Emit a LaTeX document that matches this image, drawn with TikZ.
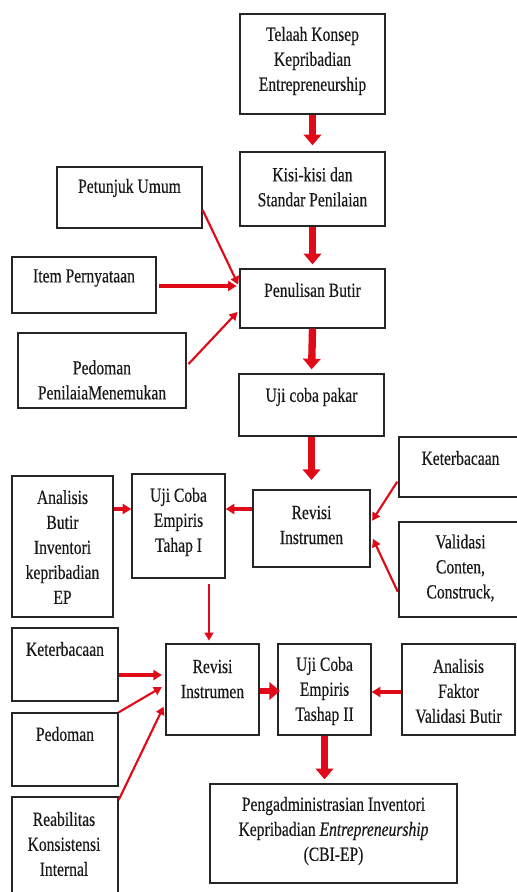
\documentclass[tikz,border=0pt]{standalone}
\usepackage{fontspec}
\setmainfont[FakeStretch=0.78,FakeBold=0.35]{Liberation Serif}
\usetikzlibrary{arrows.meta,fit,calc}
\definecolor{arr}{RGB}{225,10,25}
\begin{document}
\begin{tikzpicture}[x=0.75pt,y=-0.75pt,
  box/.style={draw=black!85,line width=1pt,inner sep=0pt},
  txt/.style={align=center,inner sep=0pt,text=black!90,font=\fontsize{15}{18.75}\selectfont},
  big/.style={draw=arr,line width=5.5pt,-{Triangle[width=13pt,length=8pt]}},
  thin/.style={draw=arr,line width=1.6pt,-{Triangle[width=6.5pt,length=6pt]}},
  mid/.style={draw=arr,line width=2.3pt,-{Triangle[width=7.5pt,length=6.5pt]}}]
\useasboundingbox (0,0) rectangle (517,892);
% boxes
\node[box,fit={(240,14) (385,114)}] (tel) {};
\node[box,fit={(240,152) (385,226)}] (kisi) {};
\node[box,fit={(240,269) (385,328)}] (pen) {};
\node[box,fit={(57,167) (202,228)}] (pet) {};
\node[box,fit={(12,257) (156,313)}] (item) {};
\node[box,fit={(18,333) (186,408)}] (pedo) {};
\node[box,fit={(239,374) (384,436)}] (uji) {};
\node[box,fit={(253,490) (370,567)}] (rev1) {};
\node[box,fit={(399,437) (522,497)}] (ket1) {};
\node[box,fit={(399,522) (522,617)}] (val) {};
\node[box,fit={(132,474) (225,578)}] (uj1) {};
\node[box,fit={(12,476) (113,617)}] (ana) {};
\node[box,fit={(12,628) (118,701)}] (ket2) {};
\node[box,fit={(12,713) (118,786)}] (pedo2) {};
\node[box,fit={(12,797) (118,900)}] (reab) {};
\node[box,fit={(166,644) (259,735)}] (rev2) {};
\node[box,fit={(278,644) (371,735)}] (uj2) {};
\node[box,fit={(402,644) (515,735)}] (anf) {};
\node[box,fit={(210,784) (457,883)}] (adm) {};
% texts
\node[txt] (tel-t) at (312.5,61) {Telaah Konsep\\Kepribadian\\Entrepreneurship};
\node[txt] (kisi-t) at (312.5,187) {Kisi-kisi dan\\Standar Penilaian};
\node[txt] (pen-t) at (312.5,290) {Penulisan Butir};
\node[txt] (pet-t) at (129.5,188) {Petunjuk Umum};
\node[txt] (item-t) at (84,278) {Item Pernyataan};
\node[txt] (pedo-t) at (102,380) {Pedoman\\PenilaiaMenemukan};
\node[txt] (uji-t) at (311.5,397) {Uji coba pakar};
\node[txt] (rev1-t) at (311.5,525) {Revisi\\Instrumen};
\node[txt] (ket1-t) at (460.5,458) {Keterbacaan};
\node[txt] (val-t) at (460.5,568) {Validasi\\Conten,\\Construck,};
\node[txt] (uj1-t) at (178.5,522) {Uji Coba\\Empiris\\Tahap I};
\node[txt] (ana-t) at (62.5,547) {Analisis\\Butir\\Inventori\\kepribadian\\EP};
\node[txt] (ket2-t) at (65,649) {Keterbacaan};
\node[txt] (pedo2-t) at (65,734) {Pedoman};
\node[txt] (reab-t) at (64,844) {Reabilitas\\Konsistensi\\Internal};
\node[txt] (rev2-t) at (212.5,679) {Revisi\\Instrumen};
\node[txt] (uj2-t) at (324.5,691) {Uji Coba\\Empiris\\Tashap II};
\node[txt] (anf-t) at (458.5,691) {Analisis\\Faktor\\Validasi Butir};
\node[txt] (adm-t) at (333.5,831) {Pengadministrasian Inventori\\Kepribadian \textit{Entrepreneurship}\\(CBI-EP)};
% block arrows
\draw[big,shorten >=4.5pt] (tel.south) -- (kisi.north);
\draw[big,shorten >=3pt] (kisi.south) -- (pen.north);
\draw[big,shorten >=3pt] (pen.south) -- (uji.north);
\draw[big,shorten >=7pt] (uji.south) -- (uji.south |- rev1.north);
\draw[big,shorten >=3pt] (uj2.south) -- (uj2.south |- adm.north);
\draw[big,line width=4.5pt,shorten >=-2pt] (rev2.east |- 0,691) -- (uj2.west |- 0,691);
% thin arrows
\draw[thin,shorten >=2pt] (pet.east |- 0,210) -- (pen.west |- 0,287);
\draw[mid,shorten <=2pt,shorten >=2pt] (item.east |- 0,286) -- (pen.west |- 0,286);
\draw[thin,shorten <=2pt,shorten >=2pt] (pedo.east |- 0,366) -- (pen.west |- 0,310);
\draw[thin,shorten <=1.5pt,shorten >=2pt] (ket1.west |- 0,480) -- (rev1.east |- 0,523);
\draw[thin,shorten <=1pt,shorten >=4pt] (val.west |- 0,593) -- (rev1.east |- 0,534);
\draw[mid] (rev1.west |- 0,509) -- (uj1.east |- 0,509);
\draw[mid] (ana.east |- 0,509) -- (uj1.west |- 0,509);
\draw[thin,shorten <=4pt,shorten >=2pt] (uj1.south -| 209,0) -- (rev2.north -| 209,0);
\draw[mid,shorten >=2.5pt] (ket2.east |- 0,675) -- (rev2.west |- 0,675);
\draw[thin,shorten >=3pt] (pedo2.north east) -- (rev2.west |- 0,685);
\draw[thin,shorten >=3pt] (reab.east |- 0,800) -- (rev2.west |- 0,703);
\draw[mid] (anf.west |- 0,692) -- (uj2.east |- 0,692);
\end{tikzpicture}
\end{document}
